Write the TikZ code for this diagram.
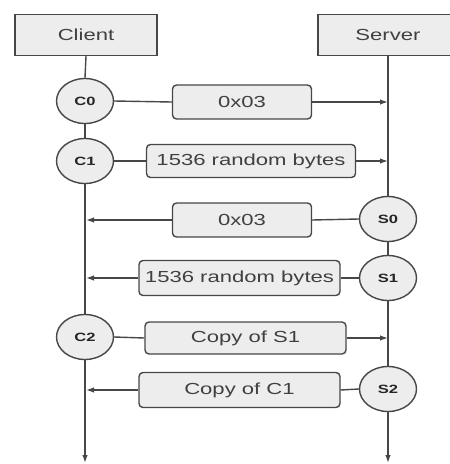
\documentclass[tikz,border=0pt]{standalone}
\usepackage{fontspec}
\newfontfamily\diagfont[FakeStretch=1.38]{Liberation Sans}
\usetikzlibrary{arrows.meta,shapes.geometric}

\begin{document}
\begin{tikzpicture}[x=1pt,y=-1pt,>={Latex[length=8pt,width=5.5pt]},
  link/.style={draw=black!72,line width=1.4pt},
  party/.style={draw=black!72,line width=1.4pt,fill=black!7,minimum height=41pt,inner sep=0pt,text=black!75,font=\diagfont\fontsize{16}{18}\selectfont},
  state/.style={ellipse,draw=black!72,line width=1.4pt,fill=black!7,minimum width=57pt,minimum height=45pt,inner sep=0pt,text=black!85,font=\diagfont\bfseries\fontsize{12}{14}\selectfont},
  msg/.style={draw=black!72,line width=1.4pt,rounded corners=4pt,fill=black!7,inner sep=0pt,text=black!75,font=\diagfont\fontsize{16}{18}\selectfont}]
\useasboundingbox (0,0) rectangle (450,464);
\node[party,minimum width=142pt] (client) at (86,35) {Client};
\node[party,minimum width=140pt] (server) at (388,35) {Server};
\node[state] (c0) at (85,101) {C0};
\node[state] (c1) at (85,161) {C1};
\node[state] (c2) at (85,337) {C2};
\node[state] (s0) at (388,219) {S0};
\node[state] (s1) at (388,278) {S1};
\node[state] (s2) at (388,389) {S2};
\coordinate (cend) at (85,463);
\coordinate (send) at (388,463);
% lifelines
\draw[link] (client.south)--(c0.north);
\draw[link] (c0.south)--(c1.north);
\draw[link] (c1.south)--(c2.north);
\draw[link,->] (c2.south)--(cend);
\draw[link] (server.south)--(s0.north);
\draw[link] (s0.south)--(s1.north);
\draw[link] (s1.south)--(s2.north);
\draw[link,->] (s2.south)--(send);
% messages
\node[msg,minimum width=139pt,minimum height=34pt] (m1) at (242,102) {0x03};
\node[msg,minimum width=209pt,minimum height=33pt] (m2) at (251,161) {1536 random bytes};
\node[msg,minimum width=139pt,minimum height=34pt] (m3) at (242,220) {0x03};
\node[msg,minimum width=201pt,minimum height=35pt] (m4) at (239.5,278) {1536 random bytes};
\node[msg,minimum width=201pt,minimum height=32pt] (m5) at (245.5,338) {Copy of S1};
\node[msg,minimum width=201pt,minimum height=35pt] (m6) at (239.5,390) {Copy of C1};
\draw[link] (c0.east)--(m1.west);
\draw[link,->] (m1.east)--(m1.east-|server);
\draw[link] (c1.east)--(m2.west);
\draw[link,->] (m2.east)--(m2.east-|server);
\draw[link] (s0.west)--(m3.east);
\draw[link,->] (m3.west)--(m3.west-|client);
\draw[link] (s1.west)--(m4.east);
\draw[link,->] (m4.west)--(m4.west-|client);
\draw[link] (c2.east)--(m5.west);
\draw[link,->] (m5.east)--(m5.east-|server);
\draw[link] (s2.west)--(m6.east);
\draw[link,->] (m6.west)--(m6.west-|client);
\end{tikzpicture}
\end{document}
